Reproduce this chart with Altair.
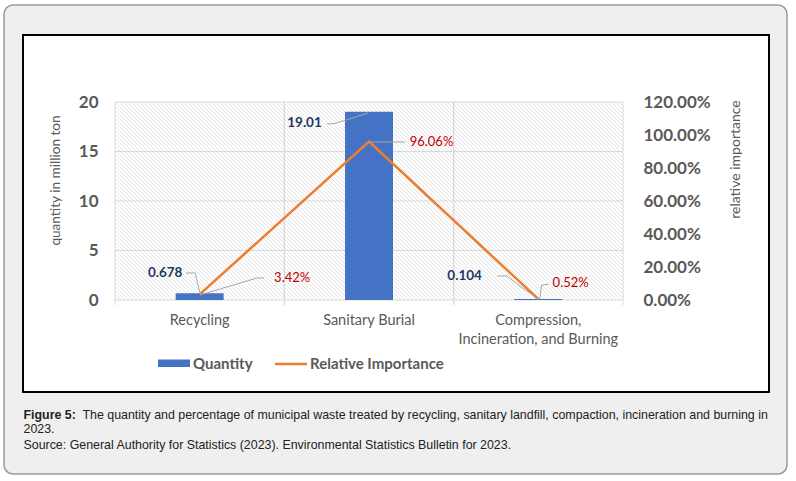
import altair as alt
import pandas as pd

# ---------------- data ----------------
categories = ["Recycling", "Sanitary Burial", "Compression, Incineration, and Burning"]
quantity = [0.678, 19.01, 0.104]                 # million ton
relative_importance = [0.0342, 0.9606, 0.0052]   # share
left_ticks = [0, 5, 10, 15, 20]
right_ticks = [0, 0.2, 0.4, 0.6, 0.8, 1.0, 1.2]
legend_items = ["Quantity", "Relative Importance"]
caption_bold = "Figure 5:"
caption_line1 = ("The quantity and percentage of municipal waste treated by recycling, sanitary landfill, "
                 "compaction, incineration and burning in")
caption_line2 = "2023."
caption_line3 = "Source: General Authority for Statistics (2023). Environmental Statistics Bulletin for 2023."

# ---------------- styling ----------------
W, H = 508, 198
BLUE = "#4472C4"
ORANGE = "#ED7D31"
GRAY_TXT = "#595959"
NAVY = "#1F3864"
RED = "#C00000"
GRID = "#d9d9d9"
FONT = "Lato"

df = pd.DataFrame({"category": categories, "quantity": quantity, "relative": relative_importance})
one = pd.DataFrame({"a": [0]})

xscale = alt.Scale(domain=categories, paddingInner=0, paddingOuter=0)
qscale = alt.Scale(domain=[0, 20], nice=False)
rscale = alt.Scale(domain=[0, 1.2], nice=False)


def xc(**kw):
    return alt.X("category:N", scale=xscale, axis=None, **kw)


layers = []

# frames (decoration)
layers.append(alt.Chart(one).mark_rect(fill="#efefef", stroke="#9a9a9a", strokeWidth=1.5, cornerRadius=9).encode(
    x=alt.value(-111), x2=alt.value(672), y=alt.value(-97), y2=alt.value(372)))
layers.append(alt.Chart(one).mark_rect(fill="white", stroke="black", strokeWidth=2).encode(
    x=alt.value(-92), x2=alt.value(654), y=alt.value(-67), y2=alt.value(290)))

# hatch texture of plot area
layers.append(alt.Chart(alt.sequence(-52, 130, as_="k")).transform_calculate(
    hx="datum.k * 4", hx2="datum.k * 4 + 198").mark_rule(
    color="#e0e0e0", strokeWidth=0.9, clip=True).encode(
    x=alt.X("hx:Q", scale=None), x2="hx2:Q", y=alt.value(0), y2=alt.value(H)))

# gridlines
layers.append(alt.Chart(pd.DataFrame({"t": left_ticks})).mark_rule(color=GRID, strokeWidth=1).encode(
    y=alt.Y("t:Q", scale=qscale, axis=None), x=alt.value(0), x2=alt.value(W)))
for bp in (0, 1):
    layers.append(alt.Chart(df).mark_rule(color=GRID, strokeWidth=1).encode(
        x=xc(bandPosition=bp), y=alt.value(0), y2=alt.value(H + 5)))

axis_common = dict(grid=False, domain=False, ticks=False, zindex=1,
                   labelFont=FONT, labelColor=GRAY_TXT,
                   titleFont=FONT, titleColor=GRAY_TXT, titleFontWeight="normal")

# bars (with x axis and left axis)
layers.append(alt.Chart(df).mark_bar(color=BLUE, width=alt.RelativeBandSize(48 / 169.33)).encode(
    x=alt.X("category:N", scale=xscale, sort=categories,
            axis=alt.Axis(orient="bottom", labelAngle=0, labelFontSize=14.5, labelPadding=13,
                          labelLineHeight=19, labelLimit=0, title=None,
                          labelExpr="datum.value == 'Compression, Incineration, and Burning' ? "
                                    "['Compression,', 'Incineration, and Burning'] : datum.value",
                          **axis_common)),
    y=alt.Y("quantity:Q", scale=qscale,
            axis=alt.Axis(orient="left", values=left_ticks, labelFontSize=17, labelFontWeight="bold",
                          labelPadding=17, title="quantity in million ton", titleFontSize=13.6,
                          titleX=-60, titleY=78, titleAngle=270, titleBaseline="middle",
                          **axis_common))))

# line (right axis)
layers.append(alt.Chart(df).mark_line(color=ORANGE, strokeWidth=2.5).encode(
    x=xc(),
    y=alt.Y("relative:Q", scale=rscale,
            axis=alt.Axis(orient="right", values=right_ticks, format=".2%", labelFontSize=17,
                          labelFontWeight="bold", labelPadding=20, title="relative importance",
                          titleFontSize=14, titleX=112, titleY=57, titleAngle=270,
                          titleBaseline="middle", **axis_common))))

# leader lines: (field, scale, row, [segments of (x1, y1, x2, y2) pixel offsets from the point])
leaders = [
    ("quantity", qscale, 0, [(-13.5, -20.3, -4.5, -20.3), (-4.5, -20.3, 0.5, 0.7)]),
    ("relative", rscale, 0, [(0.5, 0.6, 57.5, -16.4), (57.5, -16.4, 64.5, -16.4)]),
    ("quantity", qscale, 1, [(-42, 12.2, -34, 11.7), (-34, 11.7, -1, 1.2)]),
    ("relative", rscale, 1, [(0, 0.5, 36, 0.5)]),
    ("quantity", qscale, 2, [(-40.7, -23, -31.7, -23), (-31.7, -23, 0, 0.5)]),
    ("relative", rscale, 2, [(1.3, 0, 3.3, -14), (3.3, -14, 10.3, -15)]),
]
for field, sc, row, segs in leaders:
    for (a, b, c, d) in segs:
        layers.append(alt.Chart(df).transform_filter(alt.datum.category == categories[row]).mark_rule(
            color="#a6a6a6", strokeWidth=1, xOffset=a, yOffset=b, x2Offset=c, y2Offset=d).encode(
            x=xc(bandPosition=0.5), x2=alt.X2("category:N", bandPosition=0.5),
            y=alt.Y(f"{field}:Q", scale=sc, axis=None), y2=alt.Y2(f"{field}:Q")))

# data labels: (field, scale, row, dx, dy)
label_pos = [
    ("quantity", qscale, 0, -34.5, -20.3),
    ("relative", rscale, 0, 92.5, -16.4),
    ("quantity", qscale, 1, -64.5, 11.2),
    ("relative", rscale, 1, 62.5, 0.5),
    ("quantity", qscale, 2, -73.7, -23),
    ("relative", rscale, 2, 32.3, -16),
]
for field, sc, row, dx, dy in label_pos:
    is_q = field == "quantity"
    layers.append(alt.Chart(df).transform_filter(alt.datum.category == categories[row]).mark_text(
        font=FONT, fontSize=13.5 if is_q else 13, fontWeight="bold" if is_q else "normal",
        color=NAVY if is_q else RED, dx=dx, dy=dy, align="center", baseline="middle").encode(
        x=xc(), y=alt.Y(f"{field}:Q", scale=sc, axis=None),
        text=alt.Text(f"{field}:Q", format=".3~f" if is_q else ".2%")))

# legend (manual)
layers.append(alt.Chart(one).mark_rect(color=BLUE).encode(
    x=alt.value(43), x2=alt.value(75), y=alt.value(257.5), y2=alt.value(265)))
layers.append(alt.Chart(one).mark_rule(color=ORANGE, strokeWidth=2.5).encode(
    x=alt.value(160), x2=alt.value(192), y=alt.value(262), y2=alt.value(262)))
for txt, xpos in zip(legend_items, (78, 195)):
    layers.append(alt.Chart(one).mark_text(font=FONT, fontSize=15, fontWeight="bold", color=GRAY_TXT,
                                           align="left", baseline="middle").encode(
        x=alt.value(xpos), y=alt.value(261.5), text=alt.value(txt)))

# caption
cap_font = "Liberation Sans"
cap_color = "#222222"
cap_size = 12.4
layers.append(alt.Chart(one).mark_text(font=cap_font, fontSize=cap_size, fontWeight="bold", color=cap_color,
                                       align="left", baseline="alphabetic").encode(
    x=alt.value(-91.5), y=alt.value(316.7), text=alt.value(caption_bold)))
for txt, xpos, ypos in ((caption_line1, -32.5, 316.7), (caption_line2, -91.5, 331), (caption_line3, -91.5, 347.3)):
    layers.append(alt.Chart(one).mark_text(font=cap_font, fontSize=cap_size, color=cap_color,
                                           align="left", baseline="alphabetic").encode(
        x=alt.value(xpos), y=alt.value(ypos), text=alt.value(txt)))

chart = alt.layer(*layers).resolve_scale(x="independent", y="independent").properties(
    width=W, height=H,
    padding={"left": 115, "top": 102, "right": 173, "bottom": 181},
    autosize=alt.AutoSizeParams(type="none"),
    background="white",
).configure_view(stroke=None)

chart.save("out.html", embed_options={"renderer": "svg", "actions": False})
